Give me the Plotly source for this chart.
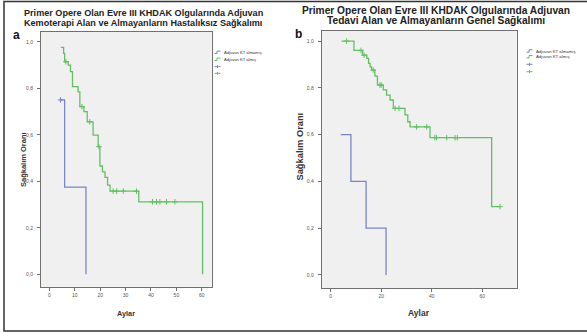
import plotly.graph_objects as go

W, H = 587, 336

# ---------------- data ----------------
# Panel a: disease-free survival
a_blue_t = [4.0, 6.0, 14.4]
a_blue_s = [0.75, 0.375, 0.0]
a_blue_cens = [4.4]

a_green_t = [4.5, 5.6, 6.0, 7.4, 8.3, 9.1, 11.3, 12.0, 13.6, 14.9, 17.2, 19.2, 19.9, 20.9, 21.9, 22.9, 23.9, 35.2, 60.3]
a_green_s = [0.976, 0.95, 0.914, 0.90, 0.872, 0.807, 0.785, 0.721, 0.70, 0.656, 0.599, 0.549, 0.466, 0.441, 0.417, 0.384, 0.358, 0.312, 0.0]
a_green_cens = [6.5, 12.8, 15.9, 19.5, 25.1, 26.5, 29.1, 34.3, 40.6, 42.2, 43.5, 46.1, 49.4]

# Panel b: overall survival
b_blue_t = [4.0, 8.0, 14.0, 21.9]
b_blue_s = [0.6, 0.4, 0.2, 0.0]
b_blue_cens = []

b_green_t = [4.3, 9.2, 12.6, 14.3, 15.0, 15.6, 16.2, 17.5, 18.5, 20.8, 22.1, 23.5, 24.8, 29.4, 30.5, 31.4, 39.3, 63.7, 67.0]
b_green_s = [1.0, 0.96, 0.94, 0.926, 0.905, 0.89, 0.876, 0.85, 0.812, 0.791, 0.769, 0.748, 0.712, 0.684, 0.655, 0.633, 0.587, 0.292, 0.292]
b_green_cens = [6.3, 12.0, 13.2, 16.8, 19.5, 20.0, 25.5, 27.0, 34.0, 38.0, 41.2, 41.9, 45.9, 49.2, 50.1, 67.0]

a_xticks = [0, 10, 20, 30, 40, 50, 60]
b_xticks = [0, 20, 40, 60]
y_ticks = [0.0, 0.2, 0.4, 0.6, 0.8, 1.0]
y_ticktext = ["0,0", "0,2", "0,4", "0,6", "0,8", "1,0"]

series_names = ["Adjuvan KT almamış", "Adjuvan KT almış"]
title_a_lines = ["Primer Opere Olan Evre III KHDAK Olgularında Adjuvan",
                 "Kemoterapi Alan ve Almayanların Hastalıksız Sağkalımı"]
title_b_lines = ["Primer Opere Olan Evre III KHDAK Olgularında Adjuvan",
                 "Tedavi Alan ve Almayanların Genel Sağkalımı"]

BLUE = "#7a84c8"
GREEN = "#62c062"
FONT = "Liberation Sans"


def px(x):
    return x / W


def py(y):
    return 1 - y / H


def surv_at(ts, ss, t):
    val = ss[0]
    for ti, si in zip(ts, ss):
        if ti <= t:
            val = si
    return val


fig = go.Figure()

panels = [
    ("x", "y", a_blue_t, a_blue_s, a_blue_cens, a_green_t, a_green_s, a_green_cens),
    ("x2", "y2", b_blue_t, b_blue_s, b_blue_cens, b_green_t, b_green_s, b_green_cens),
]
for xa, ya, bt, bs, bc, gt, gs, gc in panels:
    for t, s, c, col in [(bt, bs, bc, BLUE), (gt, gs, gc, GREEN)]:
        fig.add_trace(go.Scatter(x=t, y=s, mode="lines", line=dict(color=col, width=1.3, shape="hv"),
                                 xaxis=xa, yaxis=ya, showlegend=False, hoverinfo="skip"))
        if c:
            fig.add_trace(go.Scatter(x=c, y=[surv_at(t, s, ci) for ci in c], mode="markers",
                                     marker=dict(symbol="cross-thin", size=4, line=dict(color=col, width=1)),
                                     xaxis=xa, yaxis=ya, showlegend=False, hoverinfo="skip"))

axis_common = dict(showline=True, mirror=True, linecolor="#707070", linewidth=1, showgrid=False, zeroline=False,
                   ticks="outside", ticklen=3, tickcolor="#707070", tickwidth=1,
                   tickfont=dict(family=FONT, size=5, color="#555"))

fig.update_layout(
    width=W, height=H, margin=dict(l=0, r=0, t=0, b=0),
    paper_bgcolor="white", plot_bgcolor="#f0f0f0", showlegend=False,
    xaxis=dict(domain=[px(41), px(211.7)], range=[-3.3, 63.9], anchor="y",
               tickvals=a_xticks, ticktext=[str(v) for v in a_xticks], **axis_common),
    yaxis=dict(domain=[py(286.7), py(32)], range=[-0.053, 1.042], anchor="x",
               tickvals=y_ticks, ticktext=y_ticktext, ticklabelstandoff=3, **axis_common),
    xaxis2=dict(domain=[px(321.7), px(516.7)], range=[-3.56, 73.6], anchor="y2",
                tickvals=b_xticks, ticktext=[str(v) for v in b_xticks], **axis_common),
    yaxis2=dict(domain=[py(288.3), py(31)], range=[-0.057, 1.043], anchor="x2",
                tickvals=y_ticks, ticktext=y_ticktext, ticklabelstandoff=3, **axis_common),
)

ann = []
shapes = []


def text(x, y, s, size, bold=False, color="#222", xanchor="center", angle=0):
    ann.append(dict(x=px(x), y=py(y), xref="paper", yref="paper", text=("<b>%s</b>" % s) if bold else s,
                    showarrow=False, xanchor=xanchor, yanchor="middle", textangle=angle,
                    font=dict(family=FONT, size=size, color=color)))


# titles (one annotation per line to match the tight line spacing)
text(143, 13.3, title_a_lines[0], 9.1, bold=True)
text(143, 23.3, title_a_lines[1], 9.1, bold=True)
text(436, 10.2, title_b_lines[0], 10.2, bold=True)
text(436, 20.2, title_b_lines[1], 10.2, bold=True)
text(16.5, 35, "a", 12, bold=True, color="#111")
text(298.5, 34, "b", 12, bold=True, color="#111")
# axis titles
text(23, 160, "Sağkalım Oranı", 7.5, bold=True, color="#333", angle=-90)
text(299.5, 147, "Sağkalım Oranı", 9.3, bold=True, color="#333", angle=-90)
text(126, 313, "Aylar", 7.3, bold=True, color="#333")
text(419, 313, "Aylar", 8.5, bold=True, color="#333")


def legend(x0, ys, size):
    cols = [BLUE, GREEN]
    for i, (name, col) in enumerate(zip(series_names, cols)):
        y = ys[i]
        path = "M %f %f L %f %f L %f %f L %f %f" % (
            px(x0), py(y + 1.2), px(x0 + 2.5), py(y + 1.2), px(x0 + 2.5), py(y - 1.2), px(x0 + 6), py(y - 1.2))
        shapes.append(dict(type="path", xref="paper", yref="paper", path=path, line=dict(color=col, width=1)))
        text(x0 + 7.5, y, name, size, color="#333", xanchor="left")
    for i, col in enumerate(cols):
        y = ys[2 + i]
        shapes.append(dict(type="line", xref="paper", yref="paper", x0=px(x0), x1=px(x0 + 6), y0=py(y), y1=py(y),
                           line=dict(color=col, width=1)))
        shapes.append(dict(type="line", xref="paper", yref="paper", x0=px(x0 + 3), x1=px(x0 + 3),
                           y0=py(y - 1.5), y1=py(y + 1.5), line=dict(color=col, width=1)))


legend(214.5, [52.3, 59.3, 66.7, 73.3], 4.1)
legend(526.5, [51, 56.7, 64.3, 71.7], 4.3)

# outer frame
shapes.append(dict(type="rect", xref="paper", yref="paper", x0=px(4), x1=px(592), y0=py(331), y1=py(1.5),
                   line=dict(color="#333", width=1.5), fillcolor="rgba(0,0,0,0)"))

fig.update_layout(annotations=ann, shapes=shapes)
fig.write_html("out.html", config={"displayModeBar": False},
               post_script="document.body.style.margin='0';document.body.style.overflow='hidden';")
